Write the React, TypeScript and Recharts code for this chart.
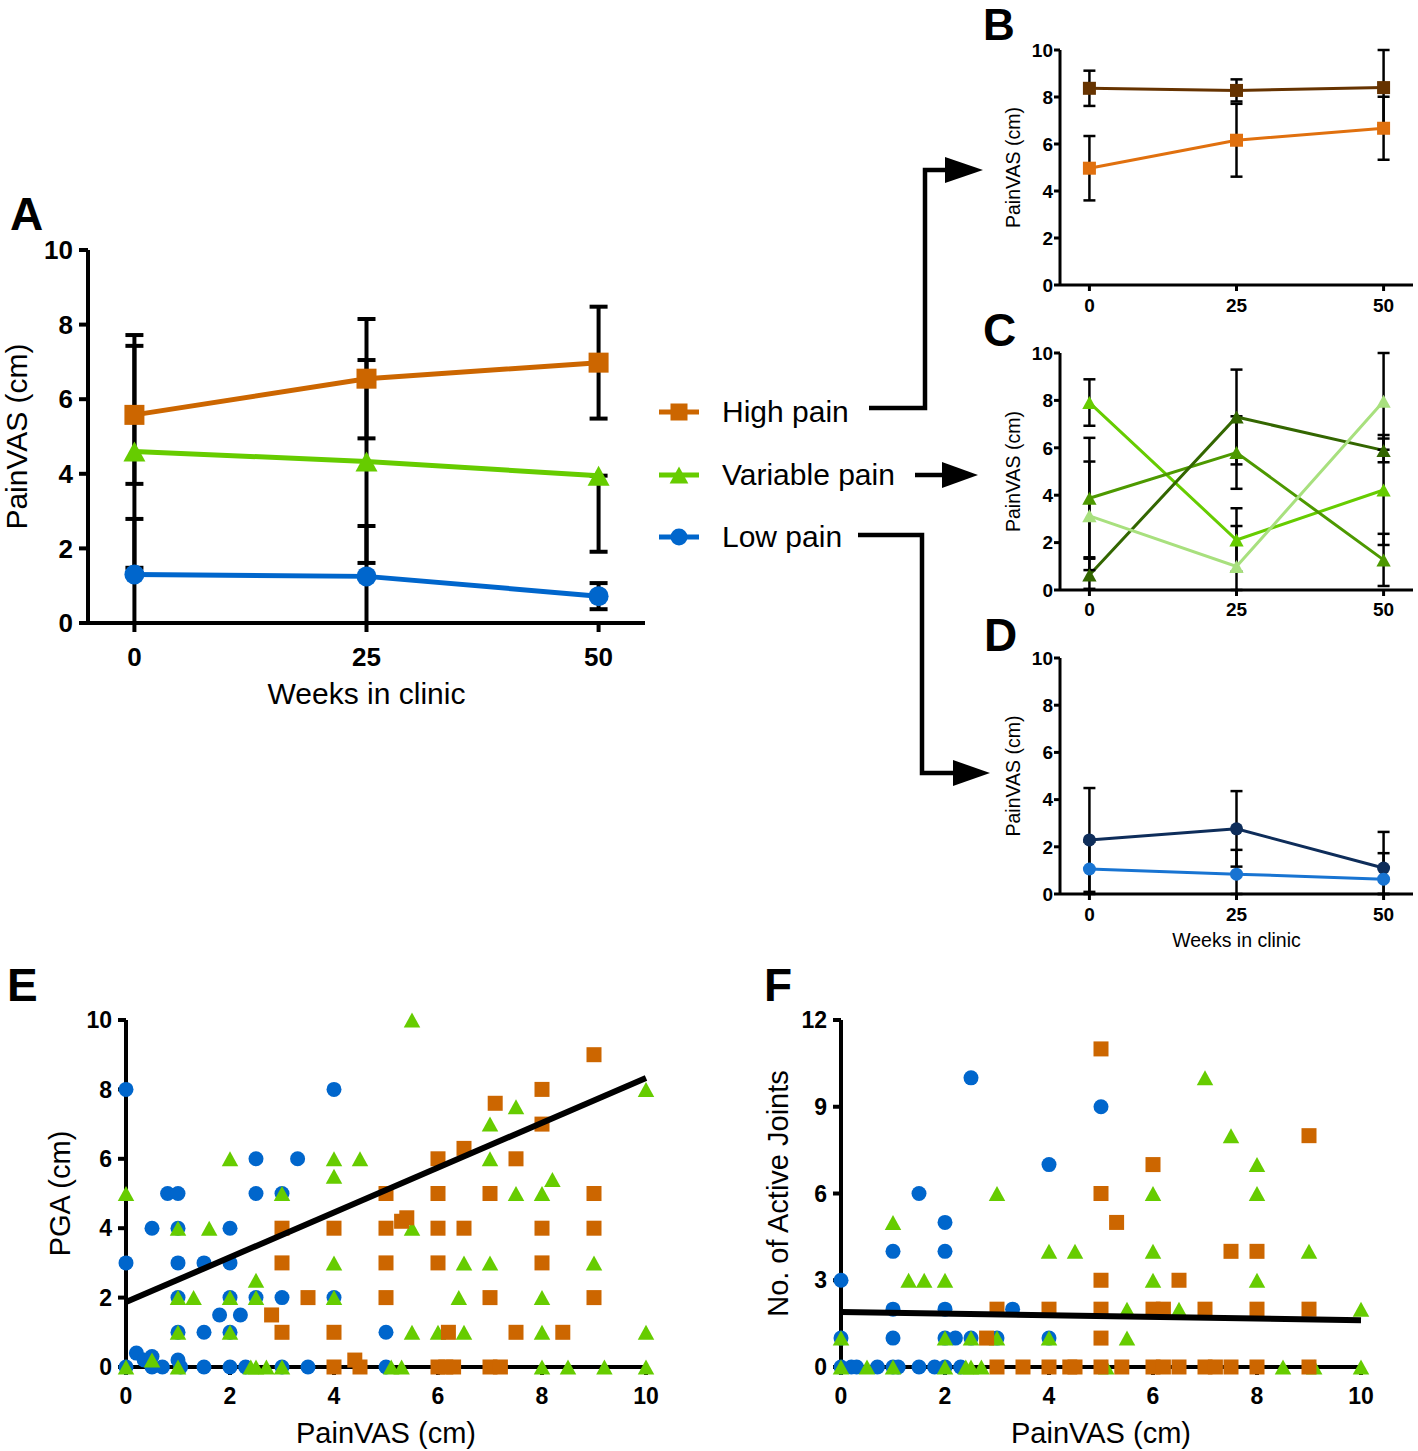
import React from 'react';
import {
  LineChart, Line, XAxis, YAxis, ErrorBar, Legend, Label,
  ScatterChart, Scatter,
} from 'recharts';

const FONT = "'Liberation Sans', Arial, Helvetica, sans-serif";

// ---------- time course panels (A-D) ----------
const weeks = [0, 25, 50];
const painTicks = [0, 2, 4, 6, 8, 10];
const groupNames = ['High pain', 'Variable pain', 'Low pain'];

// A: cluster means, error bars as [down, up] (clipped at 0 as in the figure)
const aHighPain = [5.58, 6.55, 6.98];
const aHighPainErr = [[1.85, 1.85], [1.6, 1.6], [1.5, 1.5]];
const aVariablePain = [4.6, 4.33, 3.95];
const aVariablePainErr = [[3.12, 3.12], [2.72, 2.72], [2.04, 0]];
const aLowPain = [1.3, 1.25, 0.72];
const aLowPainErr = [[1.3, 1.49], [1.25, 1.35], [0.35, 0.35]];

// B: high pain sub-clusters
const bHigh1 = [8.37, 8.28, 8.4];
const bHigh1Err = [[0.75, 0.75], [0.47, 0.47], [1.6, 1.6]];
const bHigh2 = [4.97, 6.16, 6.67];
const bHigh2Err = [[1.37, 1.37], [1.55, 1.55], [1.34, 1.34]];

// C: variable pain sub-clusters
const cVar1 = [7.91, 2.11, 4.22];
const cVar1Err = [[0.98, 0.98], [1.34, 1.34], [2.32, 2.32]];
const cVar2 = [3.87, 5.8, 1.27];
const cVar2Err = [[2.55, 2.55], [1.53, 1.53], [1.1, 1.1]];
const cVar3 = [0.63, 7.3, 5.89];
const cVar3Err = [[0.58, 0.75], [2.0, 2.0], [0.5, 0.5]];
const cVar4 = [3.13, 0.99, 7.96];
const cVar4Err = [[2.29, 2.29], [0.99, 1.71], [2.04, 2.04]];

// D: low pain sub-clusters
const dLow1 = [2.29, 2.76, 1.1];
const dLow1Err = [[2.2, 2.2], [1.6, 1.6], [1.1, 1.53]];
const dLow2 = [1.06, 0.84, 0.63];
const dLow2Err = [[1.06, 1.15], [0.84, 1.03], [0.63, 1.1]];

// ---------- scatter panels (E, F): [PainVAS, value] ----------
const eLowPain = [
  [0, 8], [0, 3], [0, 0], [0.2, 0.4], [0.35, 0.2], [0.5, 0.3], [0.5, 0], [0.7, 0],
  [0.5, 4], [0.8, 5], [1, 5], [1, 4], [1, 3], [1, 2], [1, 1], [1, 0.2], [1.05, 0],
  [1.5, 3], [1.5, 1], [1.5, 0], [1.8, 1.5], [2.2, 1.5], [2, 4], [2, 3], [2, 2], [2, 1],
  [2, 0], [2.3, 0], [2.5, 6], [2.5, 5], [2.5, 2], [3, 5], [3, 2], [3, 0], [3.3, 6],
  [3.5, 0], [4, 8], [4, 2], [5, 1], [5, 0],
];
const eVariablePain = [
  [0, 5], [0, 0], [0.5, 0.2], [1, 4], [1, 2], [1, 1], [1, 0], [1.3, 2], [1.6, 4], [2, 6],
  [2, 2], [2, 1], [2.4, 0], [2.5, 0], [2.7, 0], [2.5, 2.5], [2.5, 2], [3, 5], [3, 0],
  [4, 6], [4, 5.5], [4, 3], [4, 2], [4.5, 6], [5.5, 10], [5.5, 4], [5.5, 1], [5.1, 0],
  [5.3, 0], [6, 1], [6.5, 3], [6.4, 2], [6.5, 1], [7, 7], [7, 6], [7, 3], [7.5, 7.5],
  [7.5, 5], [8, 5], [8, 2], [8, 1], [8, 0], [8.2, 5.4], [8.5, 0], [9, 3], [9.2, 0],
  [10, 8], [10, 1], [10, 0],
];
const eHighPain = [
  [3, 4], [3, 3], [3, 1], [3.5, 2], [2.8, 1.5], [4, 4], [4, 1], [4, 0], [4.4, 0.2],
  [4.5, 0], [5, 5], [5, 4], [5, 3], [5, 2], [5.3, 4.2], [5.4, 4.3], [6, 6], [6, 5],
  [6, 4], [6, 3], [6.2, 1], [6, 0], [6.15, 0], [6.3, 0], [6.5, 6.3], [6.5, 4],
  [7.1, 7.6], [7, 5], [7, 2], [7, 0], [7.2, 0], [7.5, 6], [7.5, 1], [8, 8], [8, 7],
  [8, 4], [8, 3], [8.4, 1], [9, 9], [9, 5], [9, 4], [9, 2],
];
const eFitX = [0, 10];
const eFitY = [1.87, 8.33];

const fLowPain = [
  [0, 3], [0, 1], [0, 0], [0.2, 0], [0.3, 0], [0.7, 0], [1, 4], [1, 2], [1, 1], [1, 0],
  [1.1, 0], [1.5, 6], [1.5, 0], [1.8, 0], [2, 5], [2, 4], [2, 2], [2, 1], [2.2, 1], [2, 0],
  [2.3, 0], [2.5, 10], [2.5, 1], [3, 1], [3.3, 2], [4, 7], [4, 1], [5, 9],
];
const fVariablePain = [
  [0, 1], [0, 0], [0.5, 0], [1, 5], [1, 0], [1.3, 3], [1.6, 3], [2, 3], [2, 1], [2, 0],
  [2.4, 0], [2.5, 0], [2.7, 0], [2.5, 1], [3, 6], [3, 1], [4, 4], [4, 1], [4.5, 4],
  [5.1, 0], [5.5, 2], [5.5, 1], [6, 6], [6, 4], [6, 3], [6.5, 2], [7, 10], [7.5, 8],
  [8, 7], [8, 6], [8, 3], [8.5, 0], [9, 4], [9.1, 0], [10, 2], [10, 0],
];
const fHighPain = [
  [2.8, 1], [3, 2], [3, 0], [3.5, 0], [4, 2], [4, 0], [4.4, 0], [4.5, 0], [5, 11], [5, 6],
  [5.3, 5], [5, 3], [5, 2], [5, 1], [5, 0], [5.4, 0], [6, 7], [6, 2], [6.2, 2], [6.5, 3],
  [6, 0], [6.2, 0], [6.5, 0], [7, 2], [7, 0], [7.2, 0], [7.5, 4], [7.5, 0], [8, 4],
  [8, 2], [8, 0], [9, 8], [9, 2], [9, 0],
];
const fFitX = [0, 10];
const fFitY = [1.9, 1.62];

const ORANGE = '#CC6600';
const GREEN = '#66CC00';
const BLUE = '#0066CC';

function Marker({ shape, cx, cy, size, fill }: any) {
  if (cx == null || cy == null) return null;
  if (shape === 'square') {
    return <rect x={cx - size / 2} y={cy - size / 2} width={size} height={size} fill={fill} />;
  }
  if (shape === 'triangle') {
    const w = size * 1.1;
    const h = size;
    return (
      <polygon
        points={`${cx},${cy - h / 2} ${cx - w / 2},${cy + h / 2} ${cx + w / 2},${cy + h / 2}`}
        fill={fill}
      />
    );
  }
  return <circle cx={cx} cy={cy} r={size / 2} fill={fill} />;
}

function buildRows(series: any[]) {
  return weeks.map((w, i) => {
    const row: any = { w };
    series.forEach((s) => {
      row[s.key] = s.values[i];
      row[s.key + 'Err'] = s.err[i];
    });
    return row;
  });
}

const bigLook = { tickFont: 26, titleFont: 30, axisW: 4, tickLen: 9, lineW: 5, marker: 20, errW: 4, cap: 9 };
const smallLook = { tickFont: 19, titleFont: 19.5, axisW: 3, tickLen: 6, lineW: 3, marker: 13, errW: 2.5, cap: 6 };

function TrendChart(props: any) {
  const { left, top, width, height, mTop, mRight, yW, xH, series, look,
    yTitleOffset, xTickMargin, yTickMargin, xTitle, xTitleOffset, children } = props;
  const rows = buildRows(series);
  const tick = { fill: '#000', fontSize: look.tickFont, fontWeight: 700, fontFamily: FONT };
  const axisLine = { stroke: '#000', strokeWidth: look.axisW };
  return (
    <div style={{ position: 'absolute', left, top }}>
      <LineChart width={width} height={height} data={rows}
        margin={{ top: mTop, right: mRight, left: 0, bottom: 0 }}>
        <XAxis type="number" dataKey="w" domain={[-5, 55]} ticks={weeks} interval={0}
          height={xH} tick={tick} tickSize={look.tickLen}
          tickMargin={xTickMargin} axisLine={axisLine} tickLine={axisLine}>
          {xTitle ? (
            <Label value={xTitle} position="insideBottom" offset={xTitleOffset}
              fill="#000" fontSize={look.titleFont} fontFamily={FONT} />
          ) : null}
        </XAxis>
        <YAxis type="number" domain={[0, 10]} ticks={painTicks} interval={0}
          width={yW} tick={tick} tickSize={look.tickLen}
          tickMargin={yTickMargin} axisLine={axisLine} tickLine={axisLine}>
          <Label value="PainVAS (cm)" angle={-90} position="insideLeft" offset={yTitleOffset}
            fill="#000" fontSize={look.titleFont} fontFamily={FONT}
            style={{ textAnchor: 'middle' }} />
        </YAxis>
        {series.map((s: any) => (
          <Line key={s.key} dataKey={s.key} name={s.name} stroke={s.color}
            strokeWidth={look.lineW} isAnimationActive={false} activeDot={false}
            dot={(p: any) => (
              <Marker key={`${s.key}-${p.index}`} shape={s.shape} cx={p.cx} cy={p.cy}
                size={look.marker} fill={s.color} />
            )}>
            <ErrorBar dataKey={s.key + 'Err'} direction="y" width={look.cap}
              strokeWidth={look.errW} stroke="#000" />
          </Line>
        ))}
        {children}
      </LineChart>
    </div>
  );
}

const shapeByKey: any = { high: 'square', variable: 'triangle', low: 'circle' };

function GroupLegend({ payload }: any) {
  const items = [...(payload || [])].sort(
    (a: any, b: any) => groupNames.indexOf(a.value) - groupNames.indexOf(b.value),
  );
  return (
    <div style={{ fontFamily: FONT, fontSize: 30, color: '#000' }}>
      {items.map((p: any) => (
        <div key={p.value} style={{ display: 'flex', alignItems: 'center', height: 62.5 }}>
          <svg width={65} height={30} style={{ flex: 'none' }}>
            <line x1={2} y1={15} x2={42} y2={15} stroke={p.color} strokeWidth={5} />
            <Marker shape={shapeByKey[p.dataKey]} cx={22} cy={15} size={17} fill={p.color} />
          </svg>
          <span style={{ lineHeight: '30px', whiteSpace: 'nowrap' }}>{p.value}</span>
        </div>
      ))}
    </div>
  );
}

const toXY = (pts: number[][]) => pts.map(([x, y]) => ({ x, y }));

function ScatterPanel(props: any) {
  const { left, width, yW, mRight, yMax, yTicks, yTitle, yTitleOffset, groups, fitX, fitY } = props;
  const tick = { fill: '#000', fontSize: 23, fontWeight: 700, fontFamily: FONT };
  const axisLine = { stroke: '#000', strokeWidth: 4 };
  const fit = fitX.map((x: number, i: number) => ({ x, y: fitY[i] }));
  return (
    <div style={{ position: 'absolute', left, top: 1000 }}>
      <ScatterChart width={width} height={451} margin={{ top: 20, right: mRight, left: 0, bottom: 0 }}>
        <XAxis type="number" dataKey="x" domain={[0, 10]} ticks={[0, 2, 4, 6, 8, 10]} interval={0}
          height={84} tick={tick} tickSize={8} tickMargin={13}
          axisLine={axisLine} tickLine={axisLine}>
          <Label value="PainVAS (cm)" position="insideBottom" offset={8}
            fill="#000" fontSize={29} fontFamily={FONT} />
        </XAxis>
        <YAxis type="number" dataKey="y" domain={[0, yMax]} ticks={yTicks} interval={0}
          width={yW} tick={tick} tickSize={8} tickMargin={6}
          axisLine={axisLine} tickLine={axisLine}>
          <Label value={yTitle} angle={-90} position="insideLeft" offset={yTitleOffset}
            fill="#000" fontSize={29} fontFamily={FONT} style={{ textAnchor: 'middle' }} />
        </YAxis>
        {groups.map((g: any) => (
          <Scatter key={g.name} name={g.name} data={toXY(g.points)} fill={g.color}
            isAnimationActive={false}
            shape={(p: any) => <Marker shape={g.shape} cx={p.cx} cy={p.cy} size={15} fill={g.color} />} />
        ))}
        <Scatter name="fit" data={fit} fill="#000" isAnimationActive={false} legendType="none"
          line={{ stroke: '#000', strokeWidth: 6 }} shape={() => <g />} />
      </ScatterChart>
    </div>
  );
}

export default function App() {
  const aSeries = [
    { key: 'high', name: groupNames[0], values: aHighPain, err: aHighPainErr, color: ORANGE, shape: 'square' },
    { key: 'variable', name: groupNames[1], values: aVariablePain, err: aVariablePainErr, color: GREEN, shape: 'triangle' },
    { key: 'low', name: groupNames[2], values: aLowPain, err: aLowPainErr, color: BLUE, shape: 'circle' },
  ];
  const bSeries = [
    { key: 'h1', name: 'High 1', values: bHigh1, err: bHigh1Err, color: '#663300', shape: 'square' },
    { key: 'h2', name: 'High 2', values: bHigh2, err: bHigh2Err, color: '#E0700E', shape: 'square' },
  ];
  const cSeries = [
    { key: 'v1', name: 'Variable 1', values: cVar1, err: cVar1Err, color: '#66CC00', shape: 'triangle' },
    { key: 'v2', name: 'Variable 2', values: cVar2, err: cVar2Err, color: '#4D9900', shape: 'triangle' },
    { key: 'v3', name: 'Variable 3', values: cVar3, err: cVar3Err, color: '#336600', shape: 'triangle' },
    { key: 'v4', name: 'Variable 4', values: cVar4, err: cVar4Err, color: '#A8E07E', shape: 'triangle' },
  ];
  const dSeries = [
    { key: 'l1', name: 'Low 1', values: dLow1, err: dLow1Err, color: '#0E2D5A', shape: 'circle' },
    { key: 'l2', name: 'Low 2', values: dLow2, err: dLow2Err, color: '#1874D2', shape: 'circle' },
  ];
  const eGroups = [
    { name: groupNames[2], points: eLowPain, color: BLUE, shape: 'circle' },
    { name: groupNames[1], points: eVariablePain, color: GREEN, shape: 'triangle' },
    { name: groupNames[0], points: eHighPain, color: ORANGE, shape: 'square' },
  ];
  const fGroups = [
    { name: groupNames[2], points: fLowPain, color: BLUE, shape: 'circle' },
    { name: groupNames[1], points: fVariablePain, color: GREEN, shape: 'triangle' },
    { name: groupNames[0], points: fHighPain, color: ORANGE, shape: 'square' },
  ];
  const letter = { fontFamily: FONT, fontWeight: 700, fontSize: 46, fill: '#000' };

  return (
    <div style={{ position: 'absolute', left: 0, top: 0, width: 1418, height: 1451, background: '#fff', fontFamily: FONT }}>
      <TrendChart left={0} top={180} width={910} height={540} mTop={70} mRight={265} yW={88} xH={97}
        series={aSeries} look={bigLook} yTitleOffset={16} xTickMargin={16} yTickMargin={6}
        xTitle="Weeks in clinic" xTitleOffset={16}>
        <Legend layout="vertical" align="center" verticalAlign="middle"
          wrapperStyle={{ left: 657, top: 201, width: 260, height: 190 }}
          content={(p: any) => <GroupLegend payload={p.payload} />} />
      </TrendChart>

      <TrendChart left={990} top={30} width={428} height={300} mTop={20} mRight={5} yW={70} xH={45}
        series={bSeries} look={smallLook} yTitleOffset={23} xTickMargin={8} yTickMargin={1} />
      <TrendChart left={990} top={330} width={428} height={300} mTop={23} mRight={5} yW={70} xH={40}
        series={cSeries} look={smallLook} yTitleOffset={23} xTickMargin={7} yTickMargin={1} />
      <TrendChart left={990} top={640} width={428} height={310} mTop={18} mRight={5} yW={70} xH={56}
        series={dSeries} look={smallLook} yTitleOffset={23} xTickMargin={8} yTickMargin={1}
        xTitle="Weeks in clinic" xTitleOffset={3} />

      <ScatterPanel left={0} width={680} yW={126} mRight={34} yMax={10} yTicks={painTicks}
        yTitle="PGA (cm)" yTitleOffset={60} groups={eGroups} fitX={eFitX} fitY={eFitY} />
      <ScatterPanel left={720} width={698} yW={121} mRight={57} yMax={12} yTicks={[0, 3, 6, 9, 12]}
        yTitle="No. of Active Joints" yTitleOffset={58} groups={fGroups} fitX={fFitX} fitY={fFitY} />

      <svg width={1418} height={1451} style={{ position: 'absolute', left: 0, top: 0, pointerEvents: 'none' }}>
        <text x={10} y={230} {...letter}>A</text>
        <text x={983} y={40} {...letter} fontSize={44}>B</text>
        <text x={983} y={346} {...letter}>C</text>
        <text x={984} y={651} {...letter}>D</text>
        <text x={7} y={1001} {...letter}>E</text>
        <text x={764} y={1001} {...letter}>F</text>

        <polyline points="869,408 925,408 925,170 950,170" fill="none" stroke="#000" strokeWidth={4.5} />
        <polygon points="945,157 983,170 945,183" fill="#000" />
        <line x1={915} y1={475} x2={948} y2={475} stroke="#000" strokeWidth={4.5} />
        <polygon points="942,462 978,475 942,488" fill="#000" />
        <polyline points="858,535 922,535 922,773 958,773" fill="none" stroke="#000" strokeWidth={4.5} />
        <polygon points="953,760 990,773 953,786" fill="#000" />
      </svg>
    </div>
  );
}
